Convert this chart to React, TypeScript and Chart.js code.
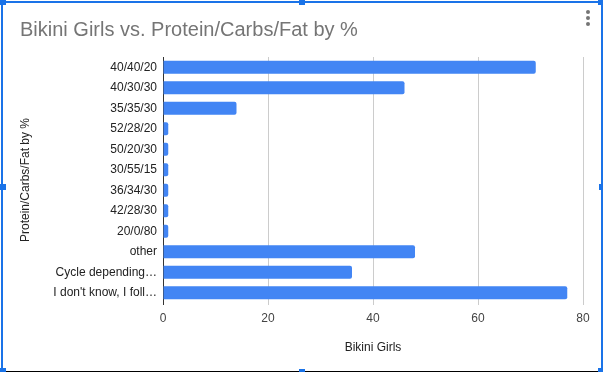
import React, { useEffect, useRef } from "react";
import { Chart, registerables } from "chart.js";

Chart.register(...registerables);

const categories = [
  "40/40/20",
  "40/30/30",
  "35/35/30",
  "52/28/20",
  "50/20/30",
  "30/55/15",
  "36/34/30",
  "42/28/30",
  "20/0/80",
  "other",
  "Cycle depending…",
  "I don't know, I foll…",
];
const bikiniGirls = [71, 46, 14, 1, 1, 1, 1, 1, 1, 48, 36, 77];
const xTicks = [0, 20, 40, 60, 80];

const chartTitle = "Bikini Girls vs. Protein/Carbs/Fat by %";
const xTitle = "Bikini Girls";
const yTitle = "Protein/Carbs/Fat by %";

const FONT = 'Arial, "Liberation Sans", sans-serif';
const BLUE = "#1a73e8";

export default function App() {
  const ref = useRef<HTMLCanvasElement | null>(null);

  useEffect(() => {
    document.body.style.margin = "0";
    const ctx = ref.current!.getContext("2d")!;
    const chart = new Chart(ctx, {
      type: "bar",
      data: {
        labels: categories,
        datasets: [
          {
            label: xTitle,
            data: bikiniGirls,
            backgroundColor: "#4285f4",
            borderRadius: 2,
            borderSkipped: "start",
            barPercentage: 0.64,
            categoryPercentage: 1,
          },
        ],
      },
      options: {
        indexAxis: "y",
        animation: false,
        responsive: false,
        devicePixelRatio: 1,
        layout: { padding: { left: 20, right: 20, top: 0, bottom: 0 } },
        plugins: {
          legend: { display: false },
          tooltip: { enabled: false },
          title: {
            display: true,
            text: chartTitle,
            align: "start",
            color: "#757575",
            font: { family: FONT, size: 20, weight: "normal", lineHeight: 1.2 },
            padding: { top: 18, bottom: 15 },
          },
        },
        scales: {
          x: {
            type: "linear",
            min: 0,
            max: 80,
            afterFit: (s: any) => {
              s.height = 69;
            },
            afterBuildTicks: (s: any) => {
              s.ticks = xTicks.map((v) => ({ value: v }));
            },
            ticks: {
              color: "#444",
              font: { family: FONT, size: 12 },
              padding: 6,
              maxRotation: 0,
            },
            grid: {
              color: (c: any) => (c.tick && c.tick.value === 0 ? "#333" : "#ccc"),
              lineWidth: 1,
              drawTicks: true,
              tickLength: 2,
            },
            border: { display: false },
            title: {
              display: true,
              text: xTitle,
              color: "#222",
              font: { family: FONT, size: 12, lineHeight: 1.2 },
              padding: { top: 0, bottom: 17 },
            },
          },
          y: {
            type: "category",
            offset: true,
            afterFit: (s: any) => {
              s.width = 143;
            },
            ticks: {
              color: "#222",
              font: { family: FONT, size: 12 },
              padding: 6,
              autoSkip: false,
            },
            grid: { display: false, drawTicks: false },
            border: { display: true, color: "#333", width: 1 },
            title: {
              display: true,
              text: yTitle,
              color: "#222",
              font: { family: FONT, size: 12, lineHeight: 1 },
              padding: { top: 0, bottom: 0 },
            },
          },
        },
      },
    });
    return () => chart.destroy();
  }, []);

  const handle = (left: number, top: number) => (
    <div
      style={{
        position: "absolute",
        left,
        top,
        width: 6,
        height: 6,
        background: BLUE,
      }}
    />
  );
  const dot = (top: number) => (
    <div
      style={{
        position: "absolute",
        left: 586,
        top,
        width: 4,
        height: 4,
        borderRadius: 2,
        background: "#757575",
      }}
    />
  );

  return (
    <div
      style={{
        position: "absolute",
        left: 0,
        top: 0,
        width: 603,
        height: 372,
        overflow: "hidden",
        background: "#fff",
      }}
    >
      <canvas ref={ref} width={603} height={372} style={{ position: "absolute", left: 0, top: 0, width: 603, height: 372 }} />
      <div style={{ position: "absolute", left: 0, top: 1, width: 603, height: 2, background: BLUE }} />
      <div style={{ position: "absolute", left: 1, top: 0, width: 2, height: 372, background: BLUE }} />
      <div style={{ position: "absolute", left: 601, top: 0, width: 2, height: 372, background: BLUE }} />
      <div style={{ position: "absolute", left: 0, top: 371, width: 603, height: 1, background: "#000" }} />
      {handle(0, -1)}
      {handle(299, -1)}
      {handle(598, -1)}
      {handle(0, 184)}
      {handle(599, 184)}
      {handle(0, 368)}
      {handle(299, 369)}
      {handle(598, 368)}
      {dot(10)}
      {dot(16)}
      {dot(22)}
    </div>
  );
}
